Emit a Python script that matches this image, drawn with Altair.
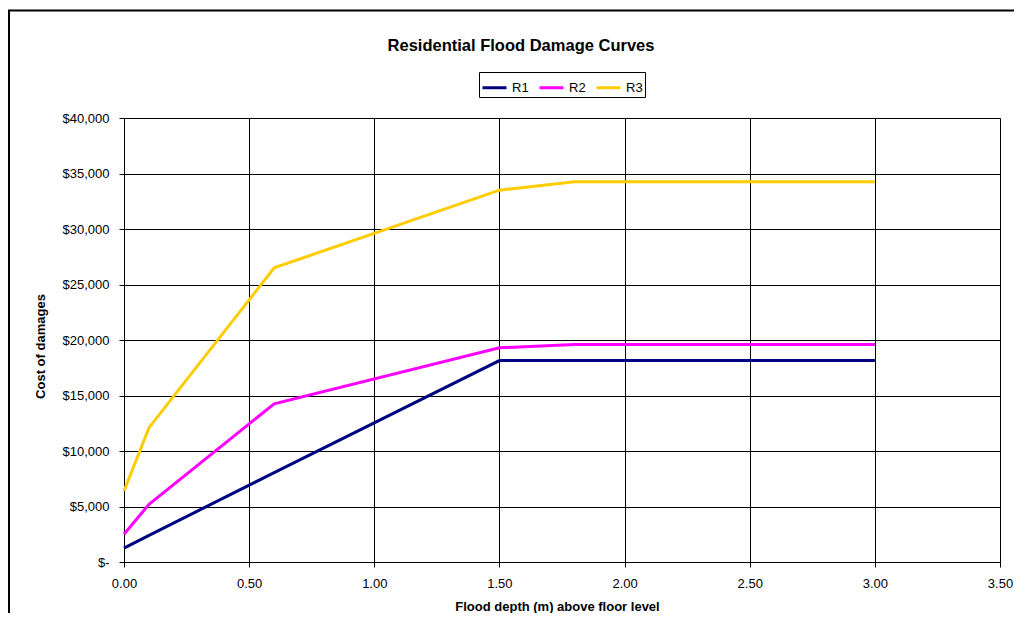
import altair as alt
import pandas as pd

depth = [0.0, 0.1, 0.6, 1.5, 1.8, 3.0]
r1 = [1250, 2400, 8050, 18150, 18150, 18150]
r2 = [2500, 5200, 14250, 19300, 19600, 19600]
r3 = [6400, 12100, 26500, 33500, 34250, 34250]
series = ["R1", "R2", "R3"]
colors = ["#000080", "#FF00FF", "#FFCC00"]
x_ticks = [0, 0.5, 1.0, 1.5, 2.0, 2.5, 3.0, 3.5]
y_ticks = [0, 5000, 10000, 15000, 20000, 25000, 30000, 35000, 40000]
chart_title = "Residential Flood Damage Curves"

rows = []
for name, vals in zip(series, [r1, r2, r3]):
    for d, v in zip(depth, vals):
        rows.append({"depth": d, "cost": v, "series": name})
df = pd.DataFrame(rows)

FONT = "Liberation Sans"

lines = alt.Chart(df).mark_line(strokeWidth=3).encode(
    x=alt.X("depth:Q",
            scale=alt.Scale(domain=[0, 3.5], nice=False),
            axis=alt.Axis(values=x_ticks, format=".2f", title="Flood depth (m) above floor level",
                          titleY=48, titleBaseline="alphabetic", titleX=433,
                          labelPadding=10, labelFontSize=13, labelFont=FONT, labelFlush=False,
                          titleFontSize=13, titleFont=FONT, titleFontWeight="bold",
                          tickSize=5, tickColor="black", domainColor="black",
                          grid=True, gridColor="black", gridOpacity=1,
                          labelColor="black", titleColor="black")),
    y=alt.Y("cost:Q",
            scale=alt.Scale(domain=[0, 40000], nice=False),
            axis=alt.Axis(values=y_ticks, title="Cost of damages",
                          labelExpr="datum.value == 0 ? '$-' : '$' + format(datum.value, ',')",
                          labelPadding=10, labelFontSize=13, labelFont=FONT, labelFlush=False,
                          titleFontSize=13, titleFont=FONT, titleFontWeight="bold",
                          titleAngle=270, titleBaseline="alphabetic", titleX=-80, titleY=228,
                          tickSize=5, tickColor="black", domainColor="black",
                          grid=True, gridColor="black", gridOpacity=1,
                          labelColor="black", titleColor="black")),
    color=alt.Color("series:N",
                    scale=alt.Scale(domain=series, range=colors),
                    legend=alt.Legend(title=None, orient="none", legendX=355, legendY=-46,
                                      direction="horizontal", symbolType="stroke",
                                      symbolSize=576, symbolStrokeWidth=3,
                                      strokeColor="black", padding=2,
                                      labelFontSize=13, labelFont=FONT, labelColor="black",
                                      labelOffset=4, columnPadding=4)),
)

border = alt.Chart(alt.Data(values=[{}])).mark_rect(
    filled=False, stroke="black", strokeWidth=2
).encode(
    x=alt.value(-115), x2=alt.value(1000), y=alt.value(-107.5), y2=alt.value(600)
)

title = alt.Chart(alt.Data(values=[{}])).mark_text(
    text=chart_title, font=FONT, fontSize=16.5, fontWeight="bold", color="black",
    align="center", baseline="alphabetic"
).encode(x=alt.value(397), y=alt.value(-67.5))

chart = alt.layer(border, title, lines).properties(
    width=876, height=444,
    autosize=alt.AutoSizeParams(type="none"),
    padding={"left": 116, "top": 110, "right": 14, "bottom": 51},
).configure_view(stroke="black", strokeWidth=1).configure(background="white")

chart.save("out.html", embed_options={"renderer": "svg", "actions": False})
